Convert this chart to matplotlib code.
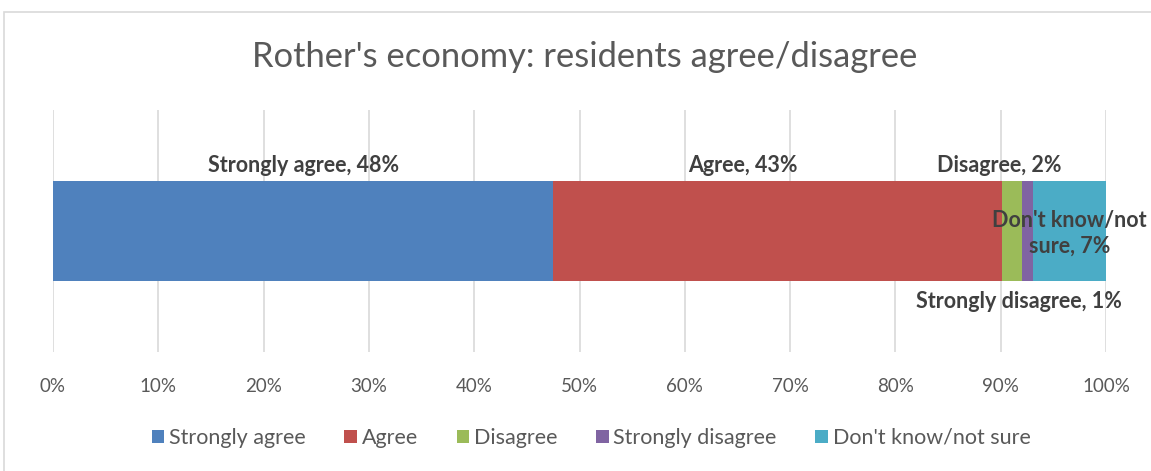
import matplotlib
matplotlib.use('Agg')
import matplotlib.pyplot as plt
from matplotlib.patches import Rectangle

plt.rcParams['font.family'] = ['Lato', 'DejaVu Sans']

# Données (en %)
categories = ['Strongly agree', 'Agree', 'Disagree', 'Strongly disagree', "Don't know/not sure"]
values = [47.5, 42.6, 1.9, 1.1, 6.9]
colors = ['#4F81BD', '#C0504D', '#9BBB59', '#8064A2', '#4BACC6']
label_texts = ['Strongly agree, 48%', 'Agree, 43%', 'Disagree, 2%',
               'Strongly disagree, 1%', "Don't know/not\nsure, 7%"]
tick_labels = ['0%', '10%', '20%', '30%', '40%', '50%', '60%', '70%', '80%', '90%', '100%']

fig = plt.figure(figsize=(11.51, 4.71), dpi=100)
ax = fig.add_axes([53/1151, 1-352/471, (1106-53)/1151, 242/471])

# Cadre de la zone de graphique
fig.patches.append(Rectangle((4/1151, -0.01), 1.1, 1-12/471+0.01, transform=fig.transFigure,
                             fill=False, edgecolor='#d9d9d9', linewidth=1.2))

left = 0
bar_h = 0.41
lefts = []
for cat, v, c in zip(categories, values, colors):
    ax.barh(0, v, left=left, height=bar_h, color=c, label=cat, zorder=3)
    lefts.append(left)
    left += v

ax.set_xlim(0, 100)
ax.set_ylim(-0.5, 0.5)
ax.set_yticks([])
ax.set_xticks(range(0, 101, 10))
ax.set_xticklabels(tick_labels, color='#595959', fontsize=13.5)
ax.tick_params(axis='x', length=0, pad=19)
ax.grid(axis='x', color='#d9d9d9', linewidth=1.2, zorder=0)
for s in ax.spines.values():
    s.set_visible(False)

# Étiquettes des segments (position relative au centre du segment)
centers = [l + v / 2 for l, v in zip(lefts, values)]
offsets = [(0, 0.27), (-3.3, 0.27), (-1.2, 0.27), (-0.8, -0.29), (0, -0.01)]
lab_kw = dict(ha='center', va='center', fontsize=15.5, fontweight='bold', color='#404040', zorder=5)
for cx, (dx, dy), txt in zip(centers, offsets, label_texts):
    ax.text(cx + dx, dy, txt, linespacing=1.3, **lab_kw)

fig.text(585/1151, 1-57/471, "Rother's economy: residents agree/disagree",
         ha='center', va='center', fontsize=24.8, color='#595959')

leg = ax.legend(loc='center', bbox_to_anchor=(591/1151, 1-438/471), bbox_transform=fig.transFigure,
                ncol=5, frameon=False, fontsize=15.5, handlelength=0.6, handleheight=0.6,
                handletextpad=0.2, columnspacing=1.8)
for t in leg.get_texts():
    t.set_color('#595959')

fig.savefig('out.png', dpi=100, facecolor='white')
